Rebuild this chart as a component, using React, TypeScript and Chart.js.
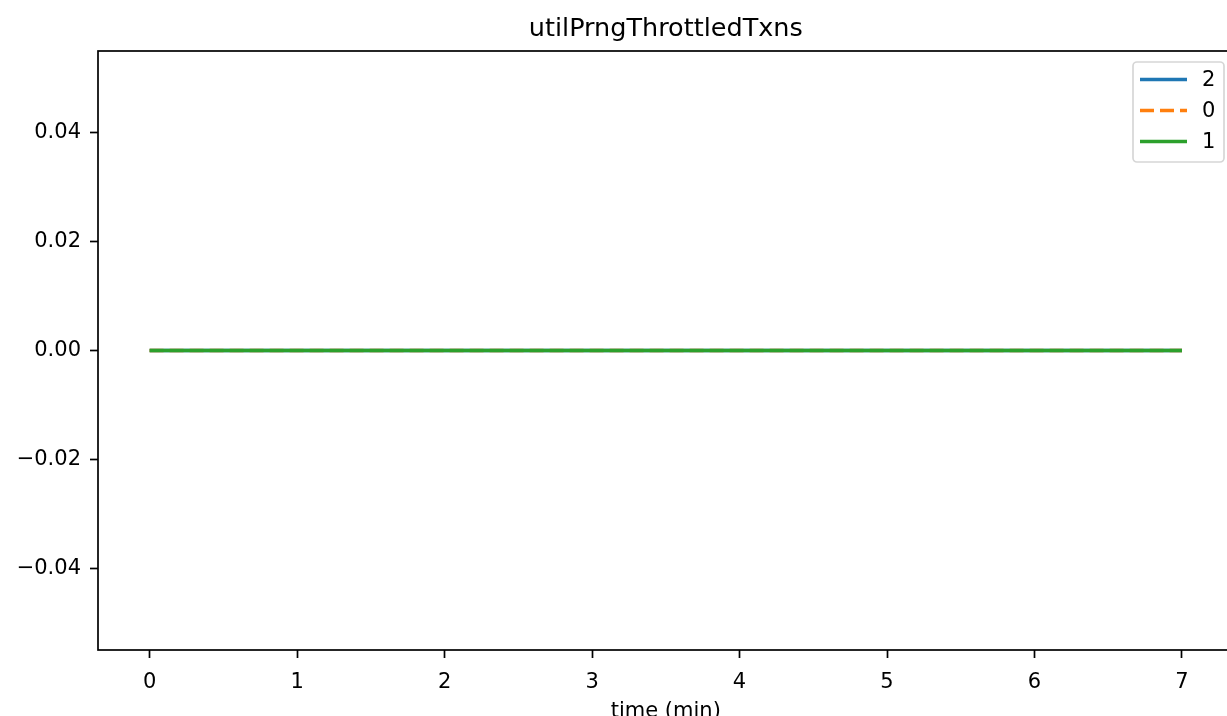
import React, { useEffect, useRef } from "react";
import { Chart, registerables } from "chart.js";

Chart.register(...registerables);

const titleText = "utilPrngThrottledTxns";
const xLabel = "time (min)";
const times = [0, 0.5, 1, 1.5, 2, 2.5, 3, 3.5, 4, 4.5, 5, 5.5, 6, 6.5, 7];
const series2 = [0, 0, 0, 0, 0, 0, 0, 0, 0, 0, 0, 0, 0, 0, 0];
const series0 = [0, 0, 0, 0, 0, 0, 0, 0, 0, 0, 0, 0, 0, 0, 0];
const series1 = [0, 0, 0, 0, 0, 0, 0, 0, 0, 0, 0, 0, 0, 0, 0];
const seriesNames = ["2", "0", "1"];
const seriesColors = ["#1f77b4", "#ff7f0e", "#2ca02c"];
const xTicks = [0, 1, 2, 3, 4, 5, 6, 7];
const yTicks = [-0.04, -0.02, 0, 0.02, 0.04];

const FONT = "'DejaVu Sans', sans-serif";
const W = 1260;
const H = 716;
const DASH = [14, 6];

export default function App() {
  const ref = useRef<HTMLCanvasElement | null>(null);

  useEffect(() => {
    const canvas = ref.current;
    if (!canvas) return;
    const allSeries = [series2, series0, series1];
    const framePlugin = {
      id: "frame",
      afterDraw(chart: any) {
        const { ctx, chartArea } = chart;
        const a = chartArea;
        ctx.save();
        ctx.strokeStyle = "#000";
        ctx.lineWidth = 1.7;
        ctx.strokeRect(a.left, a.top, a.right - a.left, a.bottom - a.top);
        // title
        ctx.fillStyle = "#000";
        ctx.font = `25.5px ${FONT}`;
        ctx.textAlign = "center";
        ctx.textBaseline = "alphabetic";
        const cx = (a.left + a.right) / 2;
        ctx.fillText(titleText, cx, 36);
        // x label
        ctx.font = `21px ${FONT}`;
        ctx.fillText(xLabel, cx, 717);
        // legend
        const lx = 1133, ly = 62, lw = 91, lh = 100;
        ctx.beginPath();
        const r = 4;
        ctx.moveTo(lx + r, ly);
        ctx.lineTo(lx + lw - r, ly);
        ctx.arcTo(lx + lw, ly, lx + lw, ly + r, r);
        ctx.lineTo(lx + lw, ly + lh - r);
        ctx.arcTo(lx + lw, ly + lh, lx + lw - r, ly + lh, r);
        ctx.lineTo(lx + r, ly + lh);
        ctx.arcTo(lx, ly + lh, lx, ly + lh - r, r);
        ctx.lineTo(lx, ly + r);
        ctx.arcTo(lx, ly, lx + r, ly, r);
        ctx.closePath();
        ctx.fillStyle = "rgba(255,255,255,0.8)";
        ctx.fill();
        ctx.strokeStyle = "#d6d6d6";
        ctx.lineWidth = 1.7;
        ctx.stroke();
        ctx.textAlign = "left";
        ctx.textBaseline = "middle";
        ctx.font = `21px ${FONT}`;
        seriesNames.forEach((name, i) => {
          const y = 79.5 + i * 31;
          ctx.beginPath();
          ctx.strokeStyle = seriesColors[i];
          ctx.lineWidth = 3.6;
          ctx.setLineDash(i === 1 ? DASH : []);
          ctx.moveTo(1140, y);
          ctx.lineTo(1187, y);
          ctx.stroke();
          ctx.setLineDash([]);
          ctx.fillStyle = "#000";
          ctx.fillText(name, 1202, y + 1);
        });
        ctx.restore();
      },
    };

    const chart = new Chart(canvas, {
      type: "line",
      data: {
        datasets: allSeries.map((s, i) => ({
          label: seriesNames[i],
          data: s.map((v, j) => ({ x: times[j], y: v })),
          borderColor: seriesColors[i],
          backgroundColor: seriesColors[i],
          borderWidth: 3.6,
          borderDash: i === 1 ? DASH : [],
          pointRadius: 0,
          tension: 0,
          fill: false,
          order: 2 - i,
        })),
      },
      options: {
        responsive: false,
        animation: false,
        devicePixelRatio: 1,
        layout: { padding: { left: 0, top: 51, right: W - 1233.6, bottom: 0 } },
        plugins: { legend: { display: false }, tooltip: { enabled: false }, title: { display: false } },
        scales: {
          x: {
            type: "linear",
            min: -0.35,
            max: 7.35,
            afterFit(s: any) {
              s.height = 66;
            },
            afterBuildTicks(s: any) {
              s.ticks = xTicks.map((v) => ({ value: v }));
            },
            grid: {
              drawOnChartArea: false,
              drawTicks: true,
              tickLength: 8,
              tickWidth: 1.7,
              tickColor: "#000",
            },
            border: { display: false },
            ticks: {
              color: "#000",
              font: { family: FONT, size: 21 },
              padding: 12,
              maxRotation: 0,
              autoSkip: false,
              callback: (v: any) => String(v),
            },
          },
          y: {
            type: "linear",
            min: -0.055,
            max: 0.055,
            afterFit(s: any) {
              s.width = 98;
            },
            afterBuildTicks(s: any) {
              s.ticks = yTicks.map((v) => ({ value: v }));
            },
            grid: {
              drawOnChartArea: false,
              drawTicks: true,
              tickLength: 8,
              tickWidth: 1.7,
              tickColor: "#000",
            },
            border: { display: false },
            ticks: {
              color: "#000",
              font: { family: FONT, size: 21 },
              padding: 9,
              autoSkip: false,
              callback: (v: any) => {
                const n = Number(v);
                const s = Math.abs(n).toFixed(2);
                return n < -1e-9 ? "\u2212" + s : s;
              },
            },
          },
        },
      },
      plugins: [framePlugin],
    });
    return () => chart.destroy();
  }, []);

  return (
    <div style={{ position: "fixed", left: 0, top: 0, width: W, height: H, background: "#fff" }}>
      <canvas ref={ref} width={W} height={H} style={{ width: W, height: H, display: "block" }} />
    </div>
  );
}
